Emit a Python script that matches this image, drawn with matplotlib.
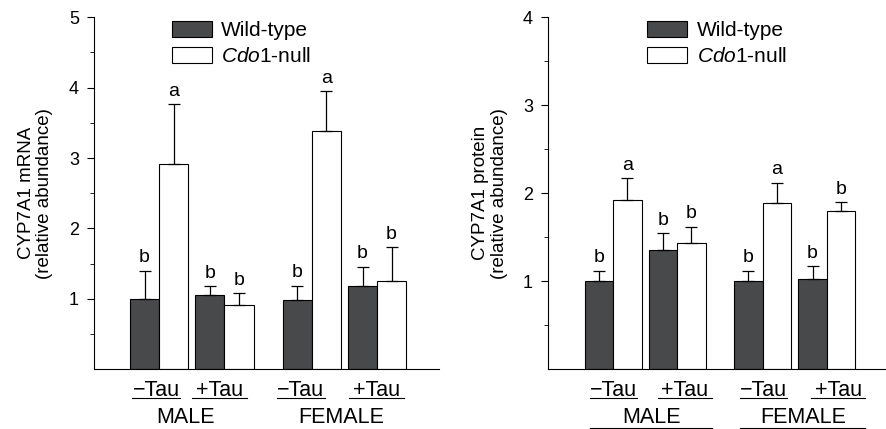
import matplotlib.pyplot as plt
from matplotlib.transforms import blended_transform_factory
import numpy as np

plt.rcParams['font.family'] = ['Liberation Sans', 'DejaVu Sans']
plt.rcParams['mathtext.fontset'] = 'custom'
plt.rcParams['mathtext.rm'] = 'Liberation Sans'
plt.rcParams['mathtext.it'] = 'Liberation Sans:italic'

# data
sexes = ['MALE', 'FEMALE']
tau_labels = ['\u2212Tau', '+Tau', '\u2212Tau', '+Tau']
series_names = ['Wild-type', r'$\mathit{Cdo1}$-null']

mrna_wt = [1.00, 1.05, 0.99, 1.18]
mrna_wt_err = [0.40, 0.13, 0.20, 0.28]
mrna_ko = [2.92, 0.92, 3.38, 1.26]
mrna_ko_err = [0.85, 0.16, 0.57, 0.47]
mrna_wt_sig = ['b', 'b', 'b', 'b']
mrna_ko_sig = ['a', 'b', 'a', 'b']

prot_wt = [1.00, 1.36, 1.00, 1.03]
prot_wt_err = [0.12, 0.19, 0.12, 0.14]
prot_ko = [1.92, 1.44, 1.89, 1.80]
prot_ko_err = [0.25, 0.18, 0.23, 0.10]
prot_wt_sig = ['b', 'b', 'b', 'b']
prot_ko_sig = ['a', 'b', 'a', 'b']

dark = '#48494b'
centers = np.array([0, 2.25, 5.25, 7.5])
w = 1.0
half = [0.82, 0.95, 0.82, 0.95]  # underline half widths


def panel(ax, wt, wt_err, ko, ko_err, wt_sig, ko_sig, ymax, ylabel, xlim, leg_xy,
          tau_off, sex_off, sex_lines):
    b1 = ax.bar(centers - w/2, wt, w, color=dark, edgecolor='black', linewidth=0.8)
    b2 = ax.bar(centers + w/2, ko, w, color='white', edgecolor='black', linewidth=0.8)
    for x, v, e in [(centers - w/2, wt, wt_err), (centers + w/2, ko, ko_err)]:
        ax.errorbar(x, v, yerr=[np.zeros(len(e)), e], fmt='none', ecolor='black',
                    elinewidth=0.9, capsize=4, capthick=0.9)
    # significance letters
    for xs, v, e, s in [(centers - w/2, wt, wt_err, wt_sig), (centers + w/2, ko, ko_err, ko_sig)]:
        for x, vi, ei, si in zip(xs, v, e, s):
            ax.annotate(si, (x, vi + ei), xytext=(0, 6), textcoords='offset points',
                        ha='center', va='baseline', fontsize=14)

    ax.set_xlim(*xlim)
    ax.set_ylim(0, ymax)
    ax.spines['top'].set_visible(False)
    ax.spines['right'].set_visible(False)
    ax.set_xticks([])
    ax.set_yticks(np.arange(1, ymax + 1))
    ax.set_yticks(np.arange(0.5, ymax, 1.0), minor=True)
    ax.tick_params(axis='y', which='major', length=5, labelsize=13, pad=6, direction='out')
    ax.tick_params(axis='y', which='minor', length=3, direction='out')
    ax.set_ylabel(ylabel, fontsize=13.5, linespacing=1.1)
    ax.yaxis.set_label_coords(-0.12, 0.5)

    # -Tau / +Tau labels with underlines, then sex labels
    trans = blended_transform_factory(ax.transData, ax.transAxes)
    spans = []
    for c, lab, h, o in zip(centers, tau_labels, half, tau_off):
        ax.text(c + o, -0.077, lab, transform=trans, ha='center', va='baseline', fontsize=15.5)
        ax.plot([c + o - h, c + o + h], [-0.083, -0.083], transform=trans, color='black',
                linewidth=0.8, clip_on=False)
        spans.append((c + o - h, c + o + h))
    for i, sx in enumerate(sexes):
        mid = (centers[2*i] + centers[2*i + 1]) / 2
        ax.text(mid + sex_off[i], -0.153, sx, transform=trans, ha='center', va='baseline',
                fontsize=15.5)
        if sex_lines:
            ax.plot([spans[2*i][0], spans[2*i + 1][1]], [-0.166, -0.166],
                    transform=trans, color='black', linewidth=0.8, clip_on=False)

    ax.legend([b1, b2], series_names, loc='upper left', bbox_to_anchor=leg_xy,
              frameon=False, fontsize=15, handlelength=1.92, handleheight=0.85,
              handletextpad=0.45, labelspacing=0.3, borderpad=0, borderaxespad=0)


fig = plt.figure(figsize=(8.87, 4.29), dpi=100)
ax1 = fig.add_axes([0.1063, 0.1392, 0.3886, 0.8205])
ax2 = fig.add_axes([0.6182, 0.1392, 0.3818, 0.8205])

panel(ax1, mrna_wt, mrna_wt_err, mrna_ko, mrna_ko_err, mrna_wt_sig, mrna_ko_sig,
      5, 'CYP7A1 mRNA\n(relative abundance)', (-2.23, 9.63), (0.225, 0.99),
      [-0.1, -0.17, -0.37, -0.03], [-0.22, -0.1], False)
panel(ax2, prot_wt, prot_wt_err, prot_ko, prot_ko_err, prot_wt_sig, prot_ko_sig,
      4, 'CYP7A1 protein\n(relative abundance)', (-2.27, 9.61), (0.292, 0.99),
      [0.02, 0.26, 0.02, 0.4], [0.23, 0.3], True)

fig.savefig('out.png', dpi=100)
